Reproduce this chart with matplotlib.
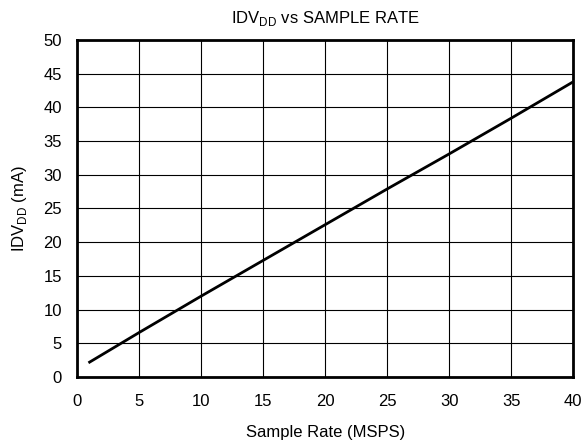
import matplotlib
matplotlib.use('Agg')
import matplotlib.pyplot as plt

plt.rcParams['font.family'] = ['Liberation Sans', 'DejaVu Sans']
plt.rcParams['font.size'] = 12
plt.rcParams['mathtext.fontset'] = 'custom'
plt.rcParams['mathtext.rm'] = 'Liberation Sans'

# data
sample_rate = [1, 5, 10, 15, 20, 25, 30, 35, 40]
idvdd = [2.2, 6.6, 12.0, 17.3, 22.6, 27.9, 33.1, 38.4, 43.8]

x_ticks = [0, 5, 10, 15, 20, 25, 30, 35, 40]
y_ticks = [0, 5, 10, 15, 20, 25, 30, 35, 40, 45, 50]

fig, ax = plt.subplots(figsize=(5.85, 4.44), dpi=100)
fig.subplots_adjust(left=0.132, right=0.98, top=0.91, bottom=0.151)

ax.plot(sample_rate, idvdd, color='black', linewidth=2)

ax.set_xlim(0, 40)
ax.set_ylim(0, 50)
ax.set_xticks(x_ticks)
ax.set_yticks(y_ticks)
ax.grid(True, color='black', linewidth=0.8)
ax.tick_params(axis='x', length=0, pad=12)
ax.tick_params(axis='y', length=0, pad=11)
for sp in ax.spines.values():
    sp.set_linewidth(2)

ax.set_xlabel('Sample Rate (MSPS)', labelpad=12)
ax.set_ylabel(r'IDV$_{\mathrm{DD}}$ (mA)', labelpad=10)
ax.set_title(r'IDV$_{\mathrm{DD}}$ vs SAMPLE RATE', fontsize=12, pad=12)

fig.savefig('out.png', dpi=100, facecolor='white')
